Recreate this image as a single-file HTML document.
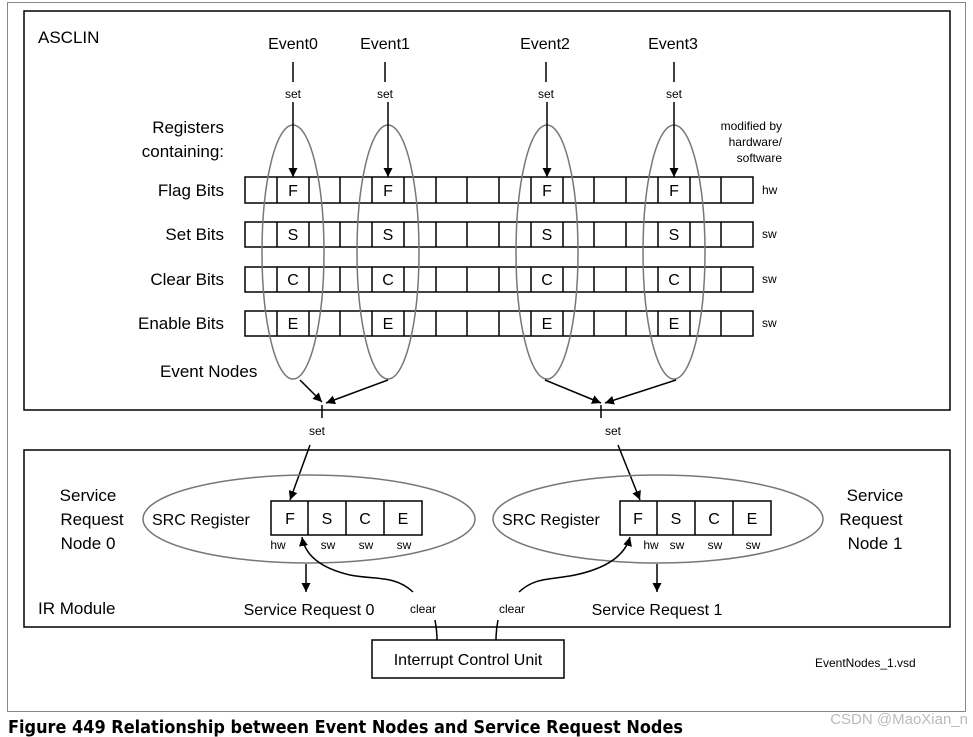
<!DOCTYPE html>
<html><head><meta charset="utf-8"><style>
html,body{margin:0;padding:0;background:#fff;}
svg{display:block;font-family:"Liberation Sans",Arial,sans-serif;}
</style></head><body>
<svg width="973" height="737" viewBox="0 0 973 737" xmlns="http://www.w3.org/2000/svg">
<defs>
<marker id="a" viewBox="0 0 10 10" refX="10" refY="5" markerWidth="9" markerHeight="9" markerUnits="userSpaceOnUse" orient="auto"><path d="M0,0L10,5L0,10z" fill="#000"/></marker>
</defs>
<rect x="7.5" y="2.5" width="958" height="709" fill="none" stroke="#888" stroke-width="1"/>
<rect x="24" y="11" width="926" height="399" fill="none" stroke="#000" stroke-width="1.5"/>
<rect x="24" y="450" width="926" height="177" fill="none" stroke="#000" stroke-width="1.5"/>
<text x="38" y="43" font-size="17">ASCLIN</text>
<g font-size="17" text-anchor="end">
<text x="224" y="133">Registers</text>
<text x="224" y="157">containing:</text>
<text x="224" y="196">Flag Bits</text>
<text x="224" y="240">Set Bits</text>
<text x="224" y="285">Clear Bits</text>
<text x="224" y="329">Enable Bits</text>
</g>
<text x="160" y="377" font-size="17">Event Nodes</text>
<g font-size="12" text-anchor="end">
<text x="782" y="130">modified by</text>
<text x="782" y="146">hardware/</text>
<text x="782" y="162">software</text>
</g>
<g font-size="12">
<text x="762" y="194">hw</text><text x="762" y="238">sw</text><text x="762" y="283">sw</text><text x="762" y="327">sw</text>
</g>
<g id="rows" fill="none" stroke="#000" stroke-width="1.5">
<rect x="245" y="177" width="508" height="26"/>
<rect x="245" y="222" width="508" height="25"/>
<rect x="245" y="267" width="508" height="25"/>
<rect x="245" y="311" width="508" height="25"/>
<path d="M277,177V203M309,177V203M340,177V203M372,177V203M404,177V203M436,177V203M467,177V203M499,177V203M531,177V203M563,177V203M594,177V203M626,177V203M658,177V203M690,177V203M721,177V203
M277,222V247M309,222V247M340,222V247M372,222V247M404,222V247M436,222V247M467,222V247M499,222V247M531,222V247M563,222V247M594,222V247M626,222V247M658,222V247M690,222V247M721,222V247
M277,267V292M309,267V292M340,267V292M372,267V292M404,267V292M436,267V292M467,267V292M499,267V292M531,267V292M563,267V292M594,267V292M626,267V292M658,267V292M690,267V292M721,267V292
M277,311V336M309,311V336M340,311V336M372,311V336M404,311V336M436,311V336M467,311V336M499,311V336M531,311V336M563,311V336M594,311V336M626,311V336M658,311V336M690,311V336M721,311V336"/>
</g>
<g font-size="16" text-anchor="middle">
<text x="293" y="196">F</text><text x="388" y="196">F</text><text x="547" y="196">F</text><text x="674" y="196">F</text>
<text x="293" y="240">S</text><text x="388" y="240">S</text><text x="547" y="240">S</text><text x="674" y="240">S</text>
<text x="293" y="285">C</text><text x="388" y="285">C</text><text x="547" y="285">C</text><text x="674" y="285">C</text>
<text x="293" y="329">E</text><text x="388" y="329">E</text><text x="547" y="329">E</text><text x="674" y="329">E</text>
</g>
<g fill="none" stroke="#777" stroke-width="1.5">
<ellipse cx="293" cy="252" rx="31" ry="127"/>
<ellipse cx="388" cy="252" rx="31" ry="127"/>
<ellipse cx="547" cy="252" rx="31" ry="127"/>
<ellipse cx="674" cy="252" rx="31" ry="127"/>
</g>
<g font-size="16" text-anchor="middle">
<text x="293" y="49">Event0</text><text x="385" y="49">Event1</text><text x="545" y="49">Event2</text><text x="673" y="49">Event3</text>
</g>
<g font-size="12" text-anchor="middle">
<text x="293" y="98">set</text><text x="385" y="98">set</text><text x="546" y="98">set</text><text x="674" y="98">set</text>
</g>
<g stroke="#000" stroke-width="1.5" fill="none">
<path d="M293,62V82M385,62V82M546,62V82M674,62V82"/>
<path d="M293,102V177" marker-end="url(#a)"/>
<path d="M388,102V177" marker-end="url(#a)"/>
<path d="M547,102V177" marker-end="url(#a)"/>
<path d="M674,102V177" marker-end="url(#a)"/>
<path d="M300,380L322,402" marker-end="url(#a)"/>
<path d="M388,380L326,403" marker-end="url(#a)"/>
<path d="M545,380L601,403" marker-end="url(#a)"/>
<path d="M676,380L605,403" marker-end="url(#a)"/>
<path d="M322,405V418M601,405V418"/>
</g>
<g font-size="12" text-anchor="middle">
<text x="317" y="435">set</text><text x="613" y="435">set</text>
</g>
<g stroke="#000" stroke-width="1.5" fill="none">
<path d="M310,445L290,500" marker-end="url(#a)"/>
<path d="M618,445L640,500" marker-end="url(#a)"/>
</g>
<g fill="none" stroke="#777" stroke-width="1.5">
<ellipse cx="309" cy="519" rx="166" ry="44"/>
<ellipse cx="658" cy="519" rx="165" ry="44"/>
</g>
<text x="152" y="525" font-size="16">SRC Register</text>
<text x="502" y="525" font-size="16">SRC Register</text>
<g fill="#fff" stroke="#000" stroke-width="1.5">
<rect x="271" y="501" width="151" height="34"/>
<rect x="620" y="501" width="151" height="34"/>
</g>
<path d="M308,501V535M346,501V535M384,501V535M657,501V535M695,501V535M733,501V535" stroke="#000" stroke-width="1.5"/>
<g font-size="16" text-anchor="middle">
<text x="290" y="524">F</text><text x="327" y="524">S</text><text x="365" y="524">C</text><text x="403" y="524">E</text>
<text x="638" y="524">F</text><text x="676" y="524">S</text><text x="714" y="524">C</text><text x="752" y="524">E</text>
</g>
<g font-size="12" text-anchor="middle">
<text x="278" y="549">hw</text><text x="328" y="549">sw</text><text x="366" y="549">sw</text><text x="404" y="549">sw</text>
<text x="651" y="549">hw</text><text x="677" y="549">sw</text><text x="715" y="549">sw</text><text x="753" y="549">sw</text>
</g>
<g font-size="17" text-anchor="middle">
<text x="88" y="501">Service</text><text x="92" y="525">Request</text><text x="88" y="549">Node 0</text>
<text x="875" y="501">Service</text><text x="871" y="525">Request</text><text x="875" y="549">Node 1</text>
</g>
<text x="38" y="614" font-size="17">IR Module</text>
<g font-size="16" text-anchor="middle">
<text x="309" y="615">Service Request 0</text>
<text x="657" y="615">Service Request 1</text>
</g>
<g font-size="12" text-anchor="middle">
<text x="423" y="613">clear</text><text x="512" y="613">clear</text>
</g>
<g stroke="#000" stroke-width="1.5" fill="none">
<path d="M306,564V592" marker-end="url(#a)"/>
<path d="M657,564V592" marker-end="url(#a)"/>
<path d="M413,592C395,575 375,580 350,575C320,568 305,555 302,537" marker-end="url(#a)"/>
<path d="M519,592C535,577 550,580 575,575C608,568 625,555 630,537" marker-end="url(#a)"/>
<path d="M435,620C437,630 437,635 437,640M498,620C496,630 496,635 496,640"/>
</g>
<rect x="372" y="640" width="192" height="38" fill="#fff" stroke="#000" stroke-width="1.5"/>
<text x="468" y="665" font-size="16" text-anchor="middle">Interrupt Control Unit</text>
<text x="815" y="667" font-size="12">EventNodes_1.vsd</text>
<text x="8" y="733" font-size="18" font-weight="bold" font-family="'DejaVu Sans',sans-serif" textLength="675" lengthAdjust="spacingAndGlyphs">Figure 449  Relationship between Event Nodes and Service Request Nodes</text>
<text x="968" y="724" font-size="15" fill="#bbb" text-anchor="end">CSDN @MaoXian_n</text>
</svg>
</body></html>
